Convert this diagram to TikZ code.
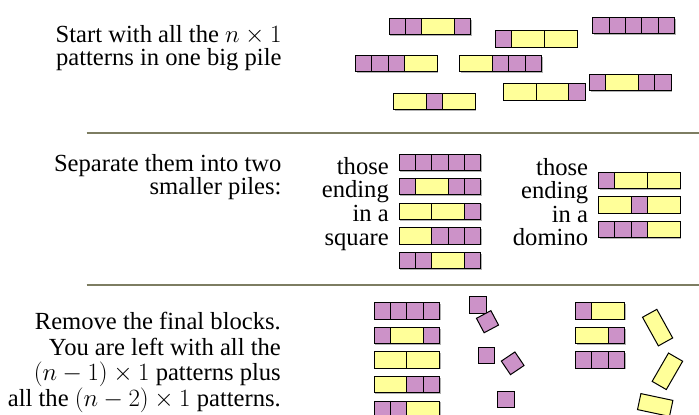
\documentclass[tikz,border=0pt]{standalone}
\usepackage{fontspec}
\setmainfont{Liberation Serif}
\definecolor{pinkc}{HTML}{CC92C8}
\definecolor{yelc}{HTML}{FFFF99}
\definecolor{rulec}{HTML}{7D7D62}
\tikzset{
  cell/.style={draw=black, line width=1pt},
  c1/.style={fill=pinkc},
  c2/.style={fill=yelc},
  shadowc/.style={fill=black, fill opacity=0.3},
  txt/.style={anchor=base east, inner sep=0pt, font=\fontsize{24.6}{25}\selectfont},
  sq/.style={cell, c1, rectangle, minimum width=16.35pt, minimum height=16.35pt, inner sep=0pt},
  dom/.style={cell, c2, rectangle, minimum width=32.7pt, minimum height=16.35pt, inner sep=0pt},
  seprule/.style={draw=rulec, line width=2pt}
}
\newcommand\patrow[3]{%
  \foreach \w [evaluate=\w as \pe using {\ps+\w}, remember=\pe as \ps (initially 0)] in {#3} {
    \fill[shadowc] ({#1+\ps*16.35+1.2},{#2+1.2}) rectangle ({#1+\pe*16.35+1.2},{#2+16.35+1.2});
  }
  \foreach \w [evaluate=\w as \pe using {\ps+\w}, remember=\pe as \ps (initially 0)] in {#3} {
    \draw[cell,c\w] ({#1+\ps*16.35},{#2}) rectangle ({#1+\pe*16.35},{#2+16.35});
  }}
\begin{document}
\begin{tikzpicture}[x=1pt,y=-1pt]
\useasboundingbox (0,0) rectangle (699,415);
\clip (0,0) rectangle (699,415);
% separators
\draw[seprule] (86.7,133) -- (699,133);
\draw[seprule] (86.7,285) -- (699,285);
% texts
\node[txt] (t1a) at (281.7,42.7) {Start with all the $n\times1$};
\node[txt] (t1b) at (281.7,65) {patterns in one big pile};
\node[txt] (t2a) at (281.7,171.7) {Separate them into two};
\node[txt] (t2b) at (281.7,194.3) {smaller piles:};
\node[txt] (t3a) at (281,329.3) {Remove the final blocks.};
\node[txt] (t3b) at (281,355) {You are left with all the};
\node[txt] (t3c) at (281,380.5) {$(n-1)\times1$ patterns plus};
\node[txt] (t3d) at (281,406) {all the $(n-2)\times1$ patterns.};
\node[txt] (sa) at (389,174.3) {those};
\node[txt] (sb) at (389,197.3) {ending};
\node[txt] (sc) at (389,221.5) {in a};
\node[txt] (sd) at (389,245) {square};
\node[txt] (da) at (588.3,175) {those};
\node[txt] (db) at (588.3,198.3) {ending};
\node[txt] (dc) at (588.3,222.5) {in a};
\node[txt] (dd) at (588.3,245) {domino};
% big pile
\patrow{389}{18.3}{1,1,2,1}
\patrow{495.3}{30.7}{1,2,2}
\patrow{592.7}{17.3}{1,1,1,1,1}
\patrow{355.3}{55.3}{1,1,1,2}
\patrow{459.7}{55.3}{2,1,1,1}
\patrow{589.3}{74.3}{1,2,1,1}
\patrow{503.3}{83.7}{2,2,1}
\patrow{393.3}{93.3}{2,1,2}
% ending in a square
\patrow{399}{154}{1,1,1,1,1}
\patrow{399}{178.3}{1,2,1,1}
\patrow{399}{203}{2,2,1}
\patrow{399}{227.7}{2,1,1,1}
\patrow{399}{252.3}{1,1,2,1}
% ending in a domino
\patrow{598.3}{172}{1,2,2}
\patrow{598.3}{196.7}{2,1,2}
\patrow{598.3}{221}{1,1,1,2}
% after removal
\patrow{374}{302.7}{1,1,1,1}
\patrow{374}{327.3}{1,2,1}
\patrow{374}{351.7}{2,2}
\patrow{374}{376.3}{2,1,1}
\patrow{374}{401}{1,1,2}
\patrow{575.3}{302.7}{1,2}
\patrow{575.3}{327.3}{2,1}
\patrow{575.3}{351.7}{1,1,1}
% removed squares
\node[sq] (r1) at (477.9,304.9) {};
\node[sq, rotate=28] (r2) at (487.5,321.7) {};
\node[sq] (r3) at (486.2,355.2) {};
\node[sq, rotate=34] (r4) at (512.7,363.3) {};
\node[sq] (r5) at (505.9,399.5) {};
% removed dominoes
\node[dom, rotate=-61] (d1) at (657.6,327.6) {};
\node[dom, rotate=60] (d2) at (667.4,371.3) {};
\node[dom, rotate=-12] (d3) at (655.2,405) {};
\end{tikzpicture}
\end{document}
